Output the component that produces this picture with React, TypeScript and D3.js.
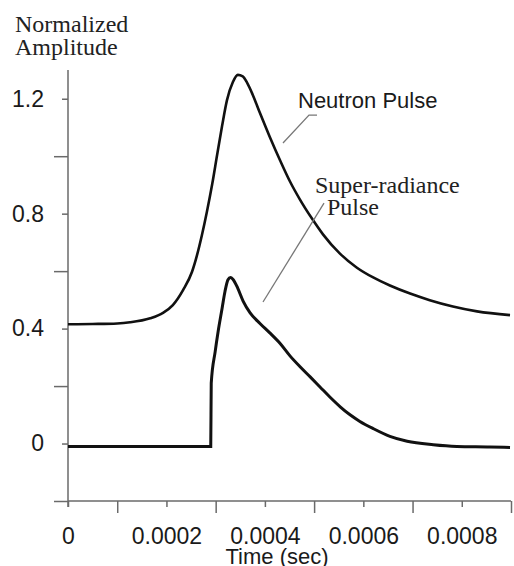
import React from "react";
import * as d3 from "d3";

// -- DATA (time in units of 1e-4 s, amplitude normalized) --
const neutronTime = [0, 0.5, 1.0, 1.26, 1.67, 1.93, 2.13, 2.34, 2.52, 2.62, 2.72, 2.82, 2.93, 3.03, 3.13, 3.23, 3.35, 3.45, 3.55, 3.64, 3.75, 3.9, 4.1, 4.31, 4.51, 4.71, 4.96, 5.18, 5.53, 5.87, 6.2, 6.54, 6.95, 7.35, 7.82, 8.31, 8.98];
const neutronAmp = [0.415, 0.416, 0.418, 0.422, 0.436, 0.455, 0.482, 0.535, 0.598, 0.655, 0.725, 0.805, 0.903, 1.005, 1.105, 1.195, 1.258, 1.283, 1.278, 1.255, 1.215, 1.15, 1.067, 0.985, 0.912, 0.85, 0.782, 0.728, 0.66, 0.612, 0.578, 0.55, 0.522, 0.499, 0.477, 0.46, 0.447];

const superTime = [0, 1, 2, 2.9, 2.91, 2.99, 3.05, 3.13, 3.19, 3.25, 3.3, 3.35, 3.45, 3.56, 3.7, 3.9, 4.1, 4.31, 4.51, 4.71, 4.92, 5.12, 5.32, 5.53, 5.73, 5.93, 6.2, 6.54, 6.89, 7.42, 7.9, 8.57, 8.98];
const superAmp = [-0.01, -0.01, -0.01, -0.01, 0.21, 0.32, 0.39, 0.47, 0.53, 0.57, 0.578, 0.572, 0.54, 0.495, 0.455, 0.418, 0.385, 0.348, 0.305, 0.268, 0.232, 0.197, 0.162, 0.128, 0.1, 0.077, 0.052, 0.025, 0.008, -0.004, -0.01, -0.012, -0.014];

const xMajorTicks = [0, 0.0002, 0.0004, 0.0006, 0.0008];
const xMinorTicks = [0.0001, 0.0003, 0.0005, 0.0007, 0.0009];
const yMajorTicks = [0, 0.4, 0.8, 1.2];
const yMinorTicks = [-0.2, 0.2, 0.6, 1.0];

// annotation anchors, in data units (time 1e-4 s, amplitude)
const neutronLabel = { t: 4.673, v: 1.168, lines: ["Neutron Pulse"] };
const neutronLeader = [[5.059, 1.143], [4.896, 1.143], [4.368, 1.046]];
const superLabel = { t: 5.018, v: 0.872, lines: ["Super-radiance", "Pulse"] };
const superLeader = [[5.201, 0.837], [3.962, 0.4925]];

const W = 514;
const H = 566;

const App = () => {
  const svgRef = React.useRef(null);

  React.useEffect(() => {
    const svg = d3.select(svgRef.current);
    svg.selectAll("*").remove();

    const x = d3.scaleLinear().domain([0, 0.0009]).range([68, 511]);
    const y = d3.scaleLinear().domain([-0.2, 1.3]).range([501, 70]);
    const axisColor = "#6a6a6a";
    const sans = "'Liberation Sans', Arial, sans-serif";
    const serif = "'Liberation Serif', 'Times New Roman', serif";

    // axes lines
    svg.append("line")
      .attr("x1", x(0)).attr("x2", x(0))
      .attr("y1", y(1.3)).attr("y2", y(-0.2) + 6)
      .attr("stroke", axisColor).attr("stroke-width", 1.5);
    svg.append("line")
      .attr("x1", x(0)).attr("x2", x(0.0009))
      .attr("y1", y(-0.2)).attr("y2", y(-0.2))
      .attr("stroke", axisColor).attr("stroke-width", 1.5);

    // y ticks
    const yAxisG = svg.append("g").attr("transform", `translate(${x(0)},0)`);
    yAxisG.call(
      d3.axisLeft(y).tickValues(yMajorTicks).tickSize(6).tickPadding(18)
        .tickFormat((d) => (d === 0 ? "0" : d3.format(".1f")(d)))
    );
    const yMinorG = svg.append("g").attr("transform", `translate(${x(0)},0)`);
    yMinorG.call(d3.axisLeft(y).tickValues(yMinorTicks).tickSize(14).tickFormat(() => ""));

    // x ticks
    const xAxisG = svg.append("g").attr("transform", `translate(0,${y(-0.2)})`);
    xAxisG.call(
      d3.axisBottom(x).tickValues(xMajorTicks).tickSize(6).tickPadding(21)
        .tickFormat((d) => (d === 0 ? "0" : d3.format(".4f")(d)))
    );
    const xMinorG = svg.append("g").attr("transform", `translate(0,${y(-0.2)})`);
    xMinorG.call(d3.axisBottom(x).tickValues(xMinorTicks).tickSize(12).tickFormat(() => ""));

    [yAxisG, yMinorG, xAxisG, xMinorG].forEach((g) => {
      g.select(".domain").remove();
      g.selectAll(".tick line").attr("stroke", axisColor).attr("stroke-width", 1.5);
      g.selectAll(".tick text")
        .attr("fill", "#1a1a1a")
        .style("font-family", sans)
        .style("font-size", "23px");
    });

    // axis titles
    svg.append("text")
      .attr("x", 15).attr("y", 32)
      .style("font-family", serif).style("font-size", "24px")
      .attr("fill", "#222")
      .text("Normalized");
    svg.append("text")
      .attr("x", 15).attr("y", 55)
      .style("font-family", serif).style("font-size", "24px")
      .attr("fill", "#222")
      .text("Amplitude");
    svg.append("text")
      .attr("x", 277).attr("y", 564)
      .attr("text-anchor", "middle")
      .style("font-family", sans).style("font-size", "22px")
      .attr("fill", "#1a1a1a")
      .text("Time (sec)");

    // curves
    const line = d3.line()
      .x((d) => x(d[0] * 1e-4))
      .y((d) => y(d[1]))
      .curve(d3.curveMonotoneX);
    svg.append("path")
      .attr("d", line(neutronTime.map((t, i) => [t, neutronAmp[i]])))
      .attr("fill", "none").attr("stroke", "#111").attr("stroke-width", 2.6);
    svg.append("path")
      .attr("d", line(superTime.map((t, i) => [t, superAmp[i]])))
      .attr("fill", "none").attr("stroke", "#111").attr("stroke-width", 3);

    // annotations
    const leader = d3.line().x((d) => x(d[0] * 1e-4)).y((d) => y(d[1]));
    [neutronLeader, superLeader].forEach((pts) => {
      svg.append("path")
        .attr("d", leader(pts))
        .attr("fill", "none").attr("stroke", "#777").attr("stroke-width", 1.3);
    });
    svg.append("text")
      .attr("x", x(neutronLabel.t * 1e-4)).attr("y", y(neutronLabel.v))
      .style("font-family", sans).style("font-size", "22px")
      .attr("fill", "#1a1a1a")
      .text(neutronLabel.lines[0]);
    svg.append("text")
      .attr("x", x(superLabel.t * 1e-4)).attr("y", y(superLabel.v))
      .style("font-family", serif).style("font-size", "24px")
      .attr("fill", "#222")
      .text(superLabel.lines[0]);
    svg.append("text")
      .attr("x", x(superLabel.t * 1e-4) + 12).attr("y", y(superLabel.v) + 22)
      .style("font-family", serif).style("font-size", "24px")
      .attr("fill", "#222")
      .text(superLabel.lines[1]);
  }, []);

  return (
    <svg
      ref={svgRef}
      width={W}
      height={H}
      style={{ position: "absolute", left: 0, top: 0, background: "#fff" }}
    />
  );
};

export default App;
